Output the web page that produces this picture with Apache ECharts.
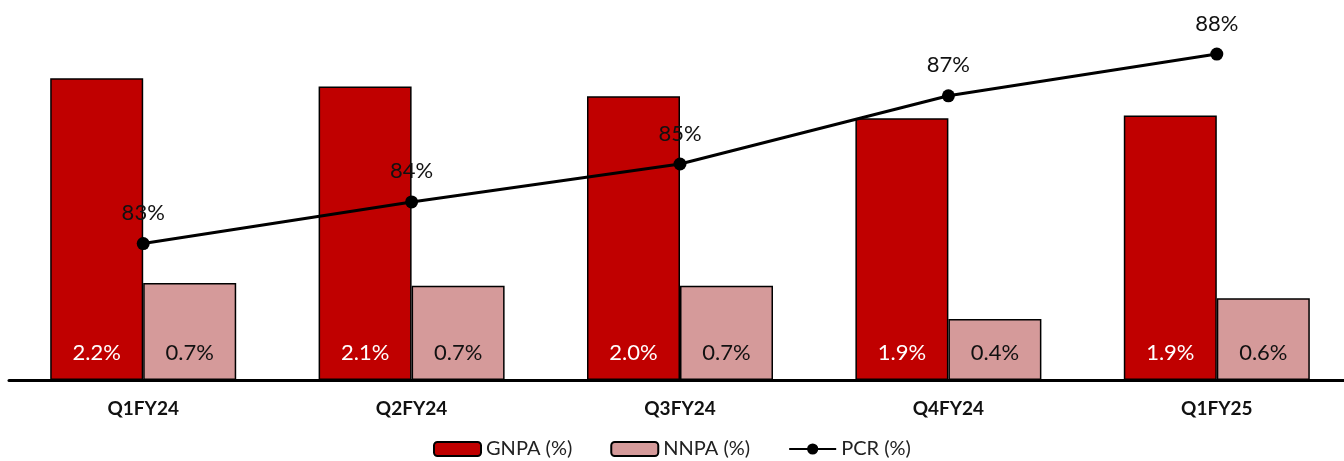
<!DOCTYPE html>
<html>
<head>
<meta charset="utf-8">
<script src="https://cdn.jsdelivr.net/npm/echarts@6/dist/echarts.min.js"></script>
<style>
  html, body { margin: 0; padding: 0; background: #ffffff; overflow: hidden; }
  /* a touch wider than the window so the last category band runs off the edge like the original */
  #chart { width: 1352px; height: 461px; }
</style>
</head>
<body>
<div id="chart"></div>
<script>
  const quarters = ['Q1FY24', 'Q2FY24', 'Q3FY24', 'Q4FY24', 'Q1FY25'];
  const gnpa = [2.18, 2.12, 2.05, 1.89, 1.91];
  const nnpa = [0.70, 0.68, 0.68, 0.44, 0.59];
  const pcr = [83.1, 84.2, 85.2, 87.0, 88.1];

  const font = 'Lato, "Open Sans", sans-serif';
  const chart = echarts.init(document.getElementById('chart'));

  const option = {
    animation: false,
    textStyle: { fontFamily: font },
    legend: {
      top: 434,
      left: 428,
      itemWidth: 47,
      itemHeight: 14,
      itemGap: 38,
      textStyle: { fontSize: 20, color: '#222', fontFamily: font },
      data: ['GNPA (%)', 'NNPA (%)', 'PCR (%)']
    },
    grid: {
      left: 9,
      width: 1342,
      top: 20,
      bottom: 81
    },
    xAxis: {
      type: 'category',
      data: quarters,
      axisLine: { lineStyle: { color: '#000', width: 3 } },
      axisTick: { show: false },
      axisLabel: { fontSize: 19, fontWeight: 'bold', color: '#111', margin: 19, fontFamily: font }
    },
    yAxis: [
      { type: 'value', min: 0, max: 2.6, show: false, splitLine: { show: false } },
      { type: 'value', min: 79.5, max: 89, show: false, splitLine: { show: false } }
    ],
    series: [
      {
        name: 'GNPA (%)',
        type: 'bar',
        data: gnpa,
        barWidth: 93,
        barGap: '0%',
        itemStyle: { color: '#C00000', borderColor: '#000', borderWidth: 1.5 },
        label: {
          show: true,
          position: 'insideBottom',
          distance: 16,
          color: '#fff',
          fontSize: 22,
          fontFamily: font,
          formatter: p => p.value.toFixed(1) + '%'
        }
      },
      {
        name: 'NNPA (%)',
        type: 'bar',
        data: nnpa,
        barWidth: 93,
        barGap: '0%',
        itemStyle: { color: '#D59A9A', borderColor: '#000', borderWidth: 1.5 },
        label: {
          show: true,
          position: 'insideBottom',
          distance: 16,
          color: '#111',
          fontSize: 22,
          fontFamily: font,
          formatter: p => p.value.toFixed(1) + '%'
        }
      },
      {
        name: 'PCR (%)',
        type: 'line',
        yAxisIndex: 1,
        data: pcr,
        symbol: 'circle',
        symbolSize: 13,
        lineStyle: { color: '#000', width: 3 },
        itemStyle: { color: '#000' },
        label: {
          show: true,
          position: 'top',
          distance: 13,
          color: '#111',
          fontSize: 22,
          fontFamily: font,
          formatter: p => Math.round(p.value) + '%'
        },
        z: 5
      }
    ]
  };

  chart.setOption(option);
</script>
</body>
</html>
